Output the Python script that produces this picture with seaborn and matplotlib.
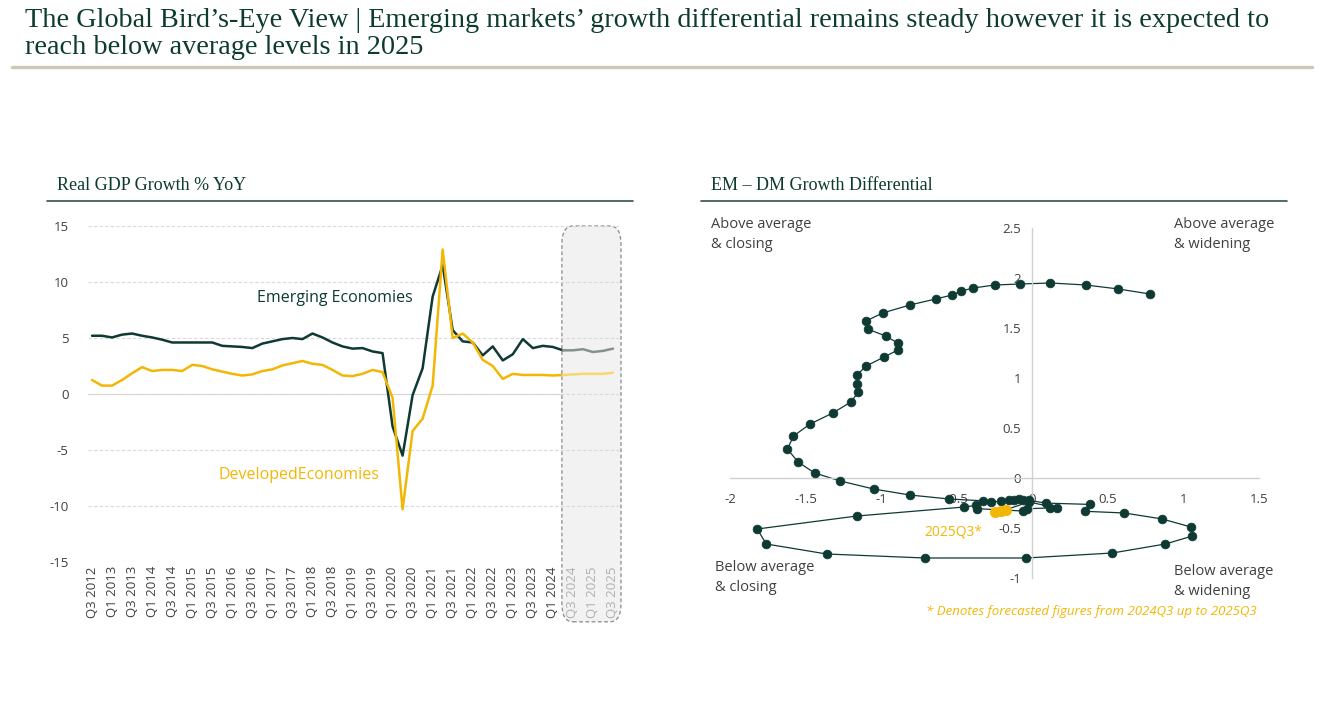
import matplotlib
matplotlib.use("Agg")
import matplotlib.pyplot as plt
import matplotlib.transforms as mtransforms
from matplotlib.patches import FancyBboxPatch
from matplotlib.lines import Line2D
import pandas as pd
import seaborn as sns

sns.set_style("white")
plt.rcParams['font.family'] = ['Open Sans', 'DejaVu Sans']

DARK = '#0e3a33'
GOLD = '#f2b705'
GREY_TXT = '#404040'

# ---- data: real GDP growth % YoY, Q3 2012 .. Q3 2025 ----
quarters = [f'Q{q} {y}' for y in range(2012, 2026) for q in (1, 2, 3, 4)][2:55]
emerging = [5.2, 5.2, 5.05, 5.3, 5.4, 5.2, 5.05, 4.85, 4.6, 4.6, 4.6, 4.6, 4.6,
            4.3, 4.25, 4.2, 4.1, 4.5, 4.7, 4.9, 5.0, 4.9, 5.4, 5.05, 4.6, 4.25,
            4.05, 4.1, 3.8, 3.65, -2.9, -5.5, -0.1, 2.3, 8.7, 11.5, 5.7, 4.7,
            4.6, 3.45, 4.25, 3.0, 3.55, 4.9, 4.1, 4.3, 4.2, 3.9, 3.9, 4.0, 3.75,
            3.85, 4.05]
developed = [1.25, 0.75, 0.75, 1.25, 1.85, 2.4, 2.05, 2.15, 2.15, 2.05, 2.6, 2.5,
             2.2, 2.0, 1.8, 1.65, 1.75, 2.05, 2.2, 2.55, 2.75, 2.95, 2.7, 2.6,
             2.15, 1.65, 1.6, 1.8, 2.15, 1.95, -0.35, -10.3, -3.3, -2.2, 0.75,
             12.9, 5.0, 5.4, 4.6, 3.05, 2.5, 1.35, 1.8, 1.7, 1.7, 1.7, 1.65, 1.7,
             1.75, 1.8, 1.8, 1.8, 1.9]
forecast_start = 47  # Q2 2024 onwards drawn as forecast

# ---- data: EM - DM growth differential path (change, level) ----
diff_change = [0.78, 0.57, 0.355, 0.12, -0.08, -0.25, -0.39, -0.47, -0.53, -0.64,
               -0.81, -0.99, -1.10, -1.09, -0.97, -0.89, -0.89, -0.98, -1.10,
               -1.16, -1.16, -1.15, -1.20, -1.32, -1.47, -1.58, -1.62, -1.55,
               -1.44, -1.27, -1.05, -0.81, -0.55, -0.325, -0.275, -0.204, -0.154,
               -0.123, -0.086, -0.060, -0.023, 0.091, 0.38, 0.35, 0.61, 0.86,
               1.05, 1.06, 0.88, 0.53, -0.04, -0.71, -1.36, -1.76, -1.82, -1.16,
               -0.45, -0.375, -0.363, -0.06, -0.035, 0.116, 0.166, -0.023]
diff_level = [1.84, 1.89, 1.93, 1.95, 1.94, 1.93, 1.90, 1.87, 1.83, 1.79, 1.73,
              1.65, 1.57, 1.49, 1.42, 1.35, 1.28, 1.21, 1.12, 1.03, 0.94, 0.86,
              0.76, 0.65, 0.54, 0.42, 0.29, 0.16, 0.05, -0.03, -0.11, -0.17,
              -0.21, -0.228, -0.241, -0.231, -0.215, -0.215, -0.208, -0.218,
              -0.224, -0.251, -0.264, -0.333, -0.35, -0.41, -0.49, -0.58, -0.66,
              -0.75, -0.80, -0.80, -0.76, -0.66, -0.51, -0.38, -0.29, -0.274,
              -0.307, -0.33, -0.307, -0.30, -0.30, -0.24]
fc_change = [-0.023, -0.174, -0.21, -0.249]
fc_level = [-0.24, -0.317, -0.33, -0.34]

gdp = pd.DataFrame({'idx': range(len(quarters)), 'quarter': quarters,
                    'Emerging': emerging, 'Developed': developed})
hist = gdp[gdp.idx <= forecast_start]
fcst = gdp[gdp.idx >= forecast_start]

fig = plt.figure(figsize=(13.31, 7.17), dpi=100)

# ---- header ----
fig.text(25 / 1331, 1 - 27 / 717,
         "The Global Bird\u2019s-Eye View | Emerging markets\u2019 growth differential remains steady however it is expected to",
         family='Liberation Serif', fontsize=20.3, color='#0d3b2e', va='baseline',
         ha='left')
fig.text(25 / 1331, 1 - 54 / 717, "reach below average levels in 2025",
         family='Liberation Serif', fontsize=20.3, color='#0d3b2e', va='baseline',
         ha='left')
fig.add_artist(Line2D([12 / 1331, 1312 / 1331], [1 - 67 / 717] * 2,
                      color='#cbc8b6', lw=2.4, transform=fig.transFigure))

for x0, x1, txt in [(47, 633, 'Real GDP Growth % YoY'),
                    (701, 1287, 'EM \u2013 DM Growth Differential')]:
    fig.text((x0 + 10) / 1331, 1 - 185 / 717, txt, family='Liberation Serif',
             fontsize=13, color='#0d3b2e', va='center', ha='left')
    fig.add_artist(Line2D([x0 / 1331, x1 / 1331], [1 - 201 / 717] * 2,
                          color='#35514c', lw=1.2, transform=fig.transFigure))

# ---- left: line chart ----
ax = fig.add_axes([88 / 1331, 1 - 562 / 717, 531 / 1331, 336 / 717])
sns.lineplot(data=hist, x='idx', y='Emerging', color=DARK, lw=1.8, ax=ax)
sns.lineplot(data=hist, x='idx', y='Developed', color=GOLD, lw=1.8, ax=ax)
sns.lineplot(data=fcst, x='idx', y='Emerging', color='#85918f', lw=1.8, ax=ax)
sns.lineplot(data=fcst, x='idx', y='Developed', color='#f7d86e', lw=1.8, ax=ax)
ax.set_xlim(-0.4, 52.6)
ax.set_ylim(-15, 15)
ax.set_yticks([-15, -10, -5, 0, 5, 10, 15])
ax.set_yticklabels(['-15', '-10', '-5', '0', '5', '10', '15'])
ax.grid(axis='y', color='#d9d9d9', ls=(0, (3, 2)), lw=0.8)
ax.set_axisbelow(True)
ax.axhline(0, color='#d0d0d0', lw=0.8, zorder=0)
tick_idx = list(range(0, len(quarters), 2))
ax.set_xticks(tick_idx)
ax.set_xticklabels([quarters[i] for i in tick_idx], rotation=90)
for i, lab in zip(tick_idx, ax.get_xticklabels()):
    lab.set_color('#b0b0b0' if i >= 48 else GREY_TXT)
ax.tick_params(axis='x', labelsize=9.5, pad=3, length=0)
ax.tick_params(axis='y', labelsize=9.5, pad=14, length=0, colors=GREY_TXT)
for s in ax.spines.values():
    s.set_visible(False)
ax.set_xlabel('')
ax.set_ylabel('')
ax.text(16.5, 8.2, 'Emerging Economies', color=DARK, fontsize=11.5)
ax.text(12.6, -7.6, 'DevelopedEconomies', color=GOLD, fontsize=11.5)
trans = mtransforms.blended_transform_factory(ax.transData, ax.transAxes)
box = FancyBboxPatch((46.9, -0.178), 5.9, 1.178,
                     boxstyle='round,pad=0,rounding_size=1.1',
                     transform=trans, clip_on=False, facecolor='#f2f2f2',
                     edgecolor='#8a8a8a', ls=(0, (3, 2)), lw=0.9, zorder=0,
                     mutation_aspect=0.05)
ax.add_patch(box)

# ---- right: differential path ----
ax2 = fig.add_axes([730 / 1331, 1 - 578 / 717, 529 / 1331, 350 / 717])
path = pd.DataFrame({'change': diff_change, 'level': diff_level,
                     'order': range(len(diff_change))})
sns.lineplot(data=path, x='change', y='level', sort=False, estimator=None,
             color=DARK, lw=0.9, ax=ax2)
sns.scatterplot(data=path, x='change', y='level', color=DARK, s=40,
                edgecolor=DARK, ax=ax2, zorder=3)
sns.lineplot(x=fc_change, y=fc_level, sort=False, estimator=None,
             color=DARK, lw=0.9, ax=ax2)
sns.scatterplot(x=fc_change[1:], y=fc_level[1:], color=GOLD, s=55,
                edgecolor=GOLD, ax=ax2, zorder=4)
ax2.text(fc_change[-1] - 0.08, fc_level[-1] - 0.2, '2025Q3*', color=GOLD,
         fontsize=10, ha='right', va='center')
ax2.set_xlim(-2, 1.5)
ax2.set_ylim(-1, 2.5)
ax2.set_xticks([-2, -1.5, -1, -0.5, 0, 0.5, 1, 1.5])
ax2.set_xticklabels(['-2', '-1.5', '-1', '-0.5', '0', '0.5', '1', '1.5'])
ax2.set_yticks([-1, -0.5, 0, 0.5, 1, 1.5, 2, 2.5])
ax2.set_yticklabels(['-1', '-0.5', '0', '0.5', '1', '1.5', '2', '2.5'])
ax2.spines['left'].set_position(('data', 0))
ax2.spines['bottom'].set_position(('data', 0))
for s in ('top', 'right'):
    ax2.spines[s].set_visible(False)
for s in ('left', 'bottom'):
    ax2.spines[s].set_color('#d0d0d0')
    ax2.spines[s].set_linewidth(1.0)
ax2.tick_params(axis='x', labelsize=9.5, pad=11, length=0, colors=GREY_TXT)
ax2.tick_params(axis='y', labelsize=9.5, pad=8, length=0, colors=GREY_TXT)
ax2.set_xlabel('')
ax2.set_ylabel('')

quad = dict(fontsize=10.5, color=GREY_TXT, va='top', ha='left', linespacing=1.45)
fig.text(711 / 1331, 1 - 217 / 717, 'Above average\n& closing', **quad)
fig.text(1174 / 1331, 1 - 217 / 717, 'Above average\n& widening', **quad)
fig.text(715 / 1331, 1 - 560 / 717, 'Below average\n& closing', **quad)
fig.text(1174 / 1331, 1 - 564 / 717, 'Below average\n& widening', **quad)
fig.text(1257 / 1331, 1 - 612 / 717,
         '* Denotes forecasted figures from 2024Q3 up to 2025Q3',
         fontsize=9.5, color=GOLD, style='italic', ha='right', va='center')

fig.savefig('out.png', dpi=100)
